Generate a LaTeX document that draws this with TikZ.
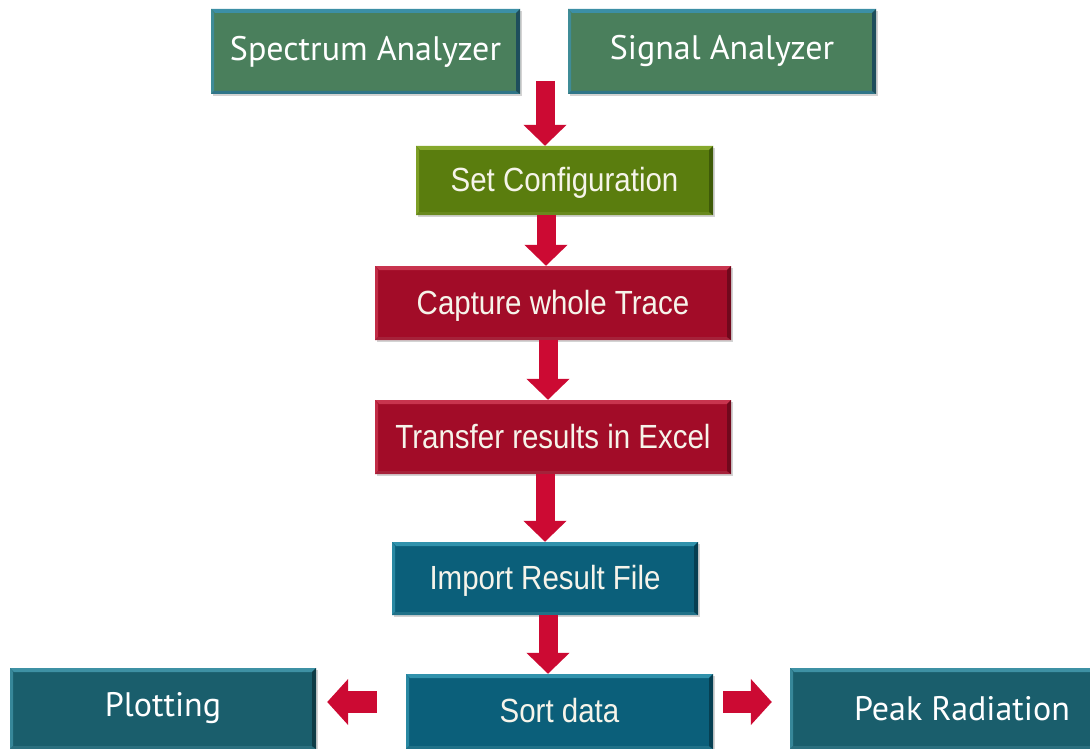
\documentclass[tikz,border=0pt]{standalone}
\usepackage{fontspec}
\setmainfont{Liberation Sans}
\newfontfamily\armfont[FakeStretch=0.88]{Liberation Sans}
\newfontfamily\condfont{PT Sans}
\usetikzlibrary{arrows.meta,shadows}

\definecolor{instgreen}{HTML}{4A7F5C}
\definecolor{instlight}{HTML}{3C8FA6}
\definecolor{instdark}{HTML}{1E4E5C}
\definecolor{cfggreen}{HTML}{5A7D0E}
\definecolor{cfglight}{HTML}{86A82C}
\definecolor{cfgdark}{HTML}{3E5A08}
\definecolor{stepred}{HTML}{A20C28}
\definecolor{steplight}{HTML}{C8344E}
\definecolor{stepdark}{HTML}{70081C}
\definecolor{filebl}{HTML}{0B5F7A}
\definecolor{filelight}{HTML}{3192AC}
\definecolor{filedark}{HTML}{063F52}
\definecolor{outteal}{HTML}{1A5E6C}
\definecolor{outlight}{HTML}{3E91A4}
\definecolor{outdark}{HTML}{0E3C46}
\definecolor{arrowred}{HTML}{CC0A33}
\definecolor{paletext}{HTML}{F6F4EA}

\tikzset{
  flowbox/.style n args={3}{rectangle, inner sep=0pt, fill=#1,
    drop shadow={opacity=0.35, shadow xshift=2pt, shadow yshift=-2pt},
    path picture={
      \coordinate (nw) at (path picture bounding box.north west);
      \coordinate (ne) at (path picture bounding box.north east);
      \coordinate (sw) at (path picture bounding box.south west);
      \coordinate (se) at (path picture bounding box.south east);
      \fill[#2] (nw) -- (ne) -- ([shift={(-4pt,-4pt)}]ne) -- ([shift={(4pt,-4pt)}]nw) -- cycle;
      \fill[#2!80!#1] (nw) -- (sw) -- ([shift={(3pt,3pt)}]sw) -- ([shift={(3pt,-4pt)}]nw) -- cycle;
      \fill[#2!60!#3] (sw) -- (se) -- ([shift={(-4pt,3pt)}]se) -- ([shift={(3pt,3pt)}]sw) -- cycle;
      \fill[#3] (ne) -- (se) -- ([shift={(-4pt,3pt)}]se) -- ([shift={(-4pt,-4pt)}]ne) -- cycle;
    }},
  armtext/.style={font=\armfont\fontsize{33.5}{36}\selectfont, text=paletext,
    text height=22pt, text depth=0pt},
  devtext/.style={font=\condfont\fontsize{34}{36}\selectfont, text=white},
  blockarrow/.style={draw=arrowred, line width=19pt,
    -{Triangle[width=42pt,length=21pt]}},
  sidearrow/.style={draw=arrowred, line width=22pt,
    -{Triangle[width=45pt,length=21pt]}},
}

\begin{document}
\begin{tikzpicture}[x=1pt,y=-1pt]
\useasboundingbox (0,0) rectangle (1090,749);
\clip (0,0) rectangle (1090,749);

% instruments
\node[flowbox={instgreen}{instlight}{instdark}, devtext, minimum width=309pt, minimum height=85pt]
  (spec) at (365.5,51.5) {Spectrum Analyzer};
\node[flowbox={instgreen}{instlight}{instdark}, devtext, minimum width=308pt, minimum height=85pt]
  (sig) at (722,51.5) {Signal Analyzer};

% processing chain
\node[flowbox={cfggreen}{cfglight}{cfgdark}, armtext, minimum width=297pt, minimum height=69pt]
  (setc) at (564.5,180.5) {Set Configuration};
\node[flowbox={stepred}{steplight}{stepdark}, armtext, minimum width=356pt, minimum height=74pt]
  (cap) at (553,303) {Capture whole Trace};
\node[flowbox={stepred}{steplight}{stepdark}, armtext, minimum width=356pt, minimum height=74pt]
  (trans) at (553,437) {Transfer results in Excel};
\node[flowbox={filebl}{filelight}{filedark}, armtext, minimum width=306pt, minimum height=73pt]
  (imp) at (545,578.5) {Import Result File};
\node[flowbox={filebl}{filelight}{filedark}, armtext, minimum width=307pt, minimum height=75pt]
  (sort) at (559.5,711.5) {Sort data};

% outputs
\node[flowbox={outteal}{outlight}{outdark}, devtext, minimum width=306pt, minimum height=81pt]
  (plot) at (163,708.5) {Plotting};
\node[flowbox={outteal}{outlight}{outdark}, devtext, minimum width=344pt, minimum height=81pt]
  (peak) at (962,708.5) {Peak Radiation};

% arrow columns
\coordinate (c1) at (545,81);
\coordinate (c2) at (546,0);
\coordinate (c3) at (548,0);
\coordinate (c4) at (545,0);
\coordinate (c5) at (548,0);

\draw[blockarrow] (c1) -- (c1 |- setc.north);
\draw[blockarrow] (setc.south -| c2) -- (cap.north -| c2);
\draw[blockarrow] (cap.south -| c3) -- (trans.north -| c3);
\draw[blockarrow] (trans.south -| c4) -- (imp.north -| c4);
\draw[blockarrow] (imp.south -| c5) -- (sort.north -| c5);

% side branches
\draw[sidearrow] ([xshift=-29pt,yshift=9.5pt]sort.west) -- ([xshift=11pt,yshift=6.5pt]plot.east);
\draw[sidearrow] ([xshift=10pt,yshift=9.5pt]sort.east) -- ([xshift=-18pt,yshift=6.5pt]peak.west);
\end{tikzpicture}
\end{document}
